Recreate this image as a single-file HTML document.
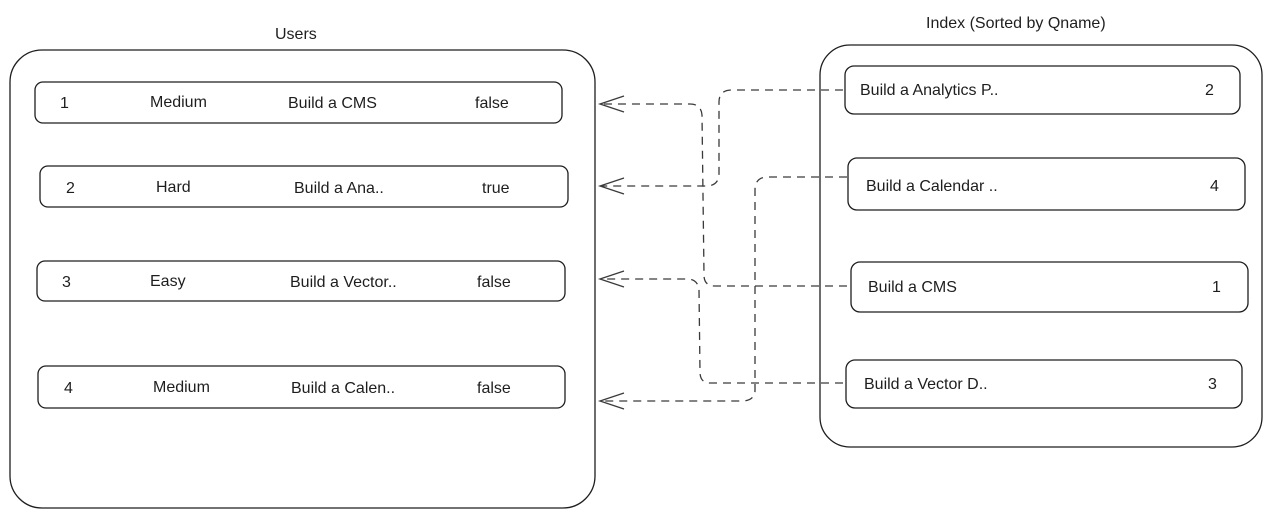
<!DOCTYPE html>
<html><head><style>
html,body{margin:0;padding:0;background:#fff;}
svg{display:block;}
text{font-family:"Liberation Sans",sans-serif;fill:#1e1e1e;font-size:16px;}
.b{fill:none;stroke:#1e1e1e;stroke-width:1.3;}
.d{fill:none;stroke:#3a3a3a;stroke-width:1.3;stroke-dasharray:8 6;}
.a{fill:none;stroke:#3a3a3a;stroke-width:1.3;}
</style></head><body>
<svg width="1283" height="517" viewBox="0 0 1283 517">
<text x="275" y="39">Users</text>
<text x="926" y="28">Index (Sorted by Qname)</text>
<rect class="b" x="10" y="50" width="585" height="458" rx="32"/>
<rect class="b" x="820" y="45" width="442" height="402" rx="30"/>

<rect class="b" x="35" y="82" width="527" height="41" rx="8"/>
<rect class="b" x="40" y="166" width="528" height="41" rx="8"/>
<rect class="b" x="37" y="261" width="528" height="40" rx="8"/>
<rect class="b" x="38" y="366" width="527" height="42" rx="8"/>

<g>
<text x="60" y="108">1</text><text x="150" y="107">Medium</text><text x="288" y="108">Build a CMS</text><text x="475" y="108">false</text>
<text x="66" y="193">2</text><text x="156" y="192">Hard</text><text x="294" y="193">Build a Ana..</text><text x="482" y="193">true</text>
<text x="62" y="287">3</text><text x="150" y="286">Easy</text><text x="290" y="287">Build a Vector..</text><text x="477" y="287">false</text>
<text x="64" y="393">4</text><text x="153" y="392">Medium</text><text x="291" y="393">Build a Calen..</text><text x="477" y="393">false</text>
</g>

<rect class="b" x="845" y="66" width="395" height="48" rx="9"/>
<rect class="b" x="848" y="158" width="397" height="52" rx="9"/>
<rect class="b" x="851" y="262" width="397" height="50" rx="9"/>
<rect class="b" x="846" y="360" width="396" height="48" rx="9"/>
<text x="860" y="95">Build a Analytics P..</text><text x="1205" y="95">2</text>
<text x="866" y="191">Build a Calendar ..</text><text x="1210" y="191">4</text>
<text x="868" y="292">Build a CMS</text><text x="1212" y="292">1</text>
<text x="864" y="389">Build a Vector D..</text><text x="1208" y="389">3</text>

<!-- CMS -> row1 -->
<path class="d" d="M847 286 L715 286 Q704 286 704 275 L702 115 Q701 104 690 104 L602 104"/>
<!-- Analytics -> row2 -->
<path class="d" d="M843 90 L732 90 Q719 90 719 102 L719 175 Q718 186 706 186 L602 186"/>
<!-- Vector -> row3 -->
<path class="d" d="M843 383 L710 383 Q700 383 700 372 L699 290 Q698 279 687 279 L602 279"/>
<!-- Calendar -> row4 -->
<path class="d" d="M847 177 L768 177 Q755 177 755 190 L755 391 Q754 401 742 401 L602 401"/>

<path class="a" d="M624 96 L600 104 L624 112"/>
<path class="a" d="M624 178 L600 186 L624 194"/>
<path class="a" d="M624 271 L600 279 L624 287"/>
<path class="a" d="M624 393 L600 401 L624 409"/>
</svg>
</body></html>
